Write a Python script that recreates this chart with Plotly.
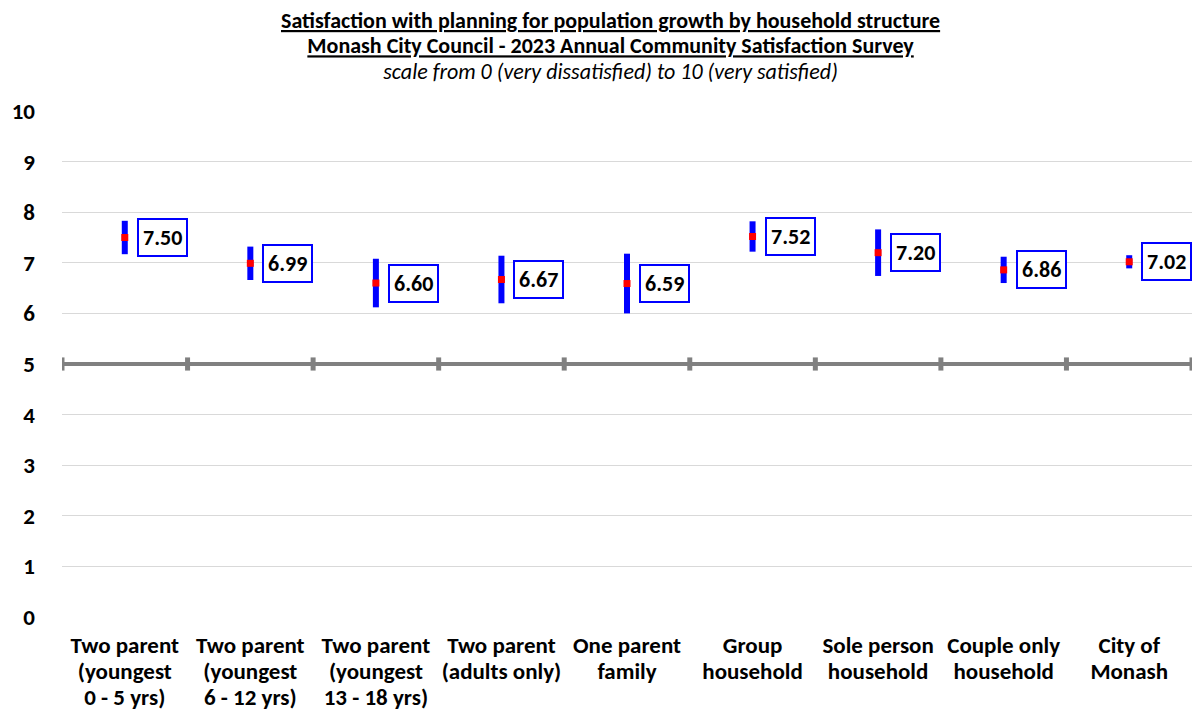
import plotly.graph_objects as go

categories = [
    "Two parent<br>(youngest<br>0 - 5 yrs)",
    "Two parent<br>(youngest<br>6 - 12 yrs)",
    "Two parent<br>(youngest<br>13 - 18 yrs)",
    "Two parent<br>(adults only)",
    "One parent<br>family",
    "Group<br>household",
    "Sole person<br>household",
    "Couple only<br>household",
    "City of<br>Monash",
]
means = [7.50, 6.99, 6.60, 6.67, 6.59, 7.52, 7.20, 6.86, 7.02]
ci_half = [0.33, 0.33, 0.48, 0.47, 0.59, 0.30, 0.46, 0.26, 0.13]
y_ticks = list(range(0, 11))
title_lines = [
    "<b><u>Satisfaction with planning for population growth by household structure</u></b>",
    "<b><u>Monash City Council - 2023 Annual Community Satisfaction Survey</u></b>",
    "<i>scale from 0 (very dissatisfied) to 10 (very satisfied)</i>",
]

FONT = "Carlito, Lato, Calibri, sans-serif"
n = len(categories)
xs = list(range(n))

def spans(parts, size):
    return "<br>".join(f'<span style="font-size:{size}px">{p}</span>' for p in parts)

fig = go.Figure()
fig.add_trace(go.Scatter(
    x=xs, y=means, mode="markers",
    marker=dict(symbol="square", size=7, color="#ff0000"),
    error_y=dict(type="data", array=ci_half, color="#0000ff", thickness=6, width=0),
    showlegend=False, hoverinfo="skip",
))

annotations = []
for x, v in zip(xs, means):
    annotations.append(dict(
        x=x, y=v, xref="x", yref="y", text=f"<b>{v:.2f}</b>",
        showarrow=False, xanchor="left", yanchor="middle", xshift=12,
        font=dict(family=FONT, size=22, color="black"),
        bordercolor="#0000ff", borderwidth=2, borderpad=4, bgcolor="white",
    ))

annotations.append(dict(
    x=0.485, y=1 + (111 - 46) / 506, xref="paper", yref="paper",
    text=spans(title_lines, 22),
    showarrow=False, xanchor="center", yanchor="middle",
    font=dict(family=FONT, size=19.5, color="black"),
))

shapes = [dict(type="line", xref="x", yref="y", x0=-0.5, x1=n - 0.5, y0=5, y1=5,
               line=dict(color="#808080", width=4), layer="above")]
for i in range(n + 1):
    shapes.append(dict(type="line", xref="x", yref="y", x0=i - 0.5, x1=i - 0.5,
                       y0=4.87, y1=5.13, line=dict(color="#808080", width=5), layer="above"))

fig.update_layout(
    width=1192, height=711,
    margin=dict(l=62, r=0, t=111, b=94),
    paper_bgcolor="white", plot_bgcolor="white",
    font=dict(family=FONT, color="black"),
    annotations=annotations, shapes=shapes,
    xaxis=dict(
        range=[-0.5, n - 0.5], tickmode="array", tickvals=xs,
        ticktext=[f"<b>{spans(c.split('<br>'), 23)}</b>" for c in categories],
        tickfont=dict(family=FONT, size=20, color="black"),
        showgrid=False, zeroline=False, showline=False, ticks="",
        ticklabelstandoff=15,
    ),
    yaxis=dict(
        range=[0, 10], tickmode="array", tickvals=y_ticks,
        ticktext=[f"<b>{t}</b>" for t in y_ticks],
        tickfont=dict(family=FONT, size=23, color="black"),
        showgrid=True, gridcolor="#d9d9d9", gridwidth=1,
        zeroline=False, showline=False, ticks="", ticklabelstandoff=26,
    ),
)
fig.write_html("out.html", config={"displayModeBar": False},
               post_script="document.body.style.margin='0';")
